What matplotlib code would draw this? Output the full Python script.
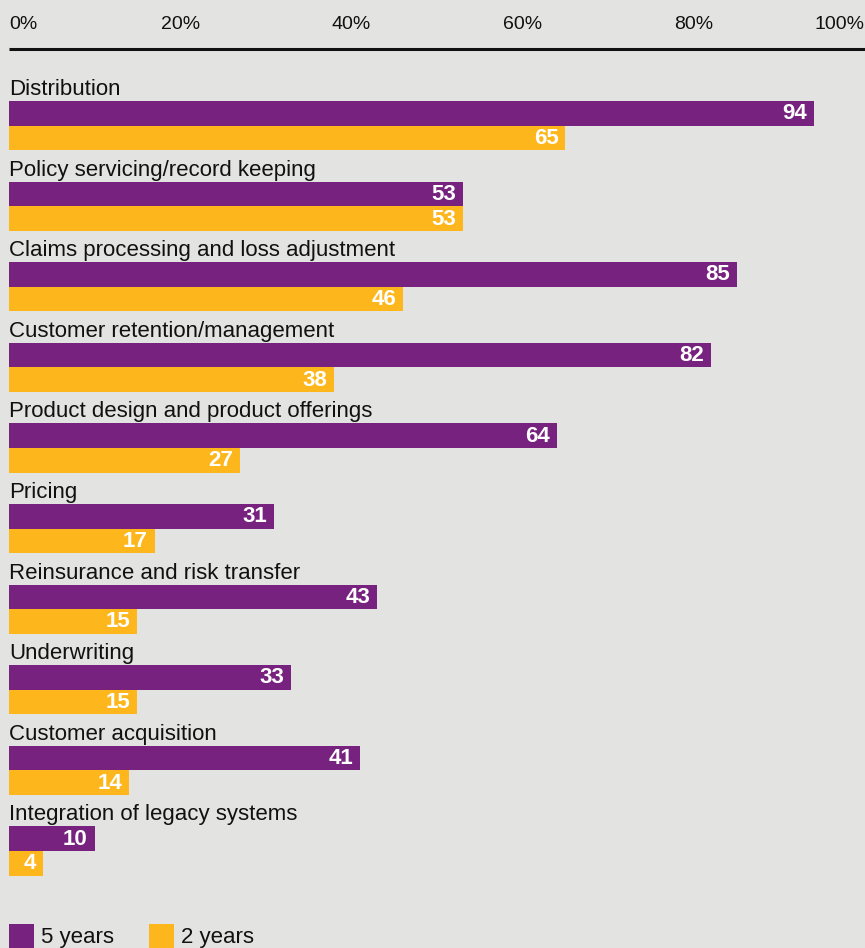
"""Horizontal paired bar chart: share of respondents expecting impact, 5 vs 2 years"""
import matplotlib.pyplot as plt
from matplotlib.patches import Rectangle

CATEGORIES = [
    "Distribution",
    "Policy servicing/record keeping",
    "Claims processing and loss adjustment",
    "Customer retention/management",
    "Product design and product offerings",
    "Pricing",
    "Reinsurance and risk transfer",
    "Underwriting",
    "Customer acquisition",
    "Integration of legacy systems",
]
FIVE_YEARS = [94, 53, 85, 82, 64, 31, 43, 33, 41, 10]
TWO_YEARS = [65, 53, 46, 38, 27, 17, 15, 15, 14, 4]
TICKS = [0, 20, 40, 60, 80, 100]
SERIES = ["5 years", "2 years"]

PURPLE = "#76227e"
YELLOW = "#fdb71c"
BG = "#e3e3e1"
FONT = "Liberation Sans"

W, H = 865, 948


def main():
    """Go Main Go"""
    fig = plt.figure(figsize=(W / 100, H / 100), dpi=100, facecolor=BG)
    # axes spans the full height; y runs in pixel rows, x in percent
    ax = fig.add_axes([9 / W, 0, (W - 9) / W, 1])
    ax.set_facecolor(BG)
    ax.set_xlim(0, 100)
    ax.set_ylim(H, 0)
    ax.axis("off")

    # top scale
    for t in TICKS:
        ha = "left" if t == TICKS[0] else ("right" if t == TICKS[-1] else "center")
        ax.text(t, 24.5, f"{t}%", ha=ha, va="center", fontsize=14,
                family=FONT, color="#111111")
    ax.plot([0, 100], [49, 49], color="#111111", lw=2.2, clip_on=False,
            solid_capstyle="butt")

    step = 80.6
    bar_h = 24.6
    for i, name in enumerate(CATEGORIES):
        top = 89.5 + i * step
        ax.text(0, top, name, ha="left", va="center", fontsize=16,
                family=FONT, color="#111111")
        for j, (vals, col) in enumerate(((FIVE_YEARS, PURPLE),
                                         (TWO_YEARS, YELLOW))):
            y = top + 11.5 + j * bar_h
            v = vals[i]
            ax.barh(y + bar_h / 2, v, height=bar_h, color=col, left=0)
            ax.text(v - 0.8, y + bar_h / 2 + 0.5, str(v), ha="right",
                    va="center", fontsize=16, fontweight="bold",
                    family=FONT, color="white")

    # legend along the bottom edge
    for k, (label, col) in enumerate(zip(SERIES, (PURPLE, YELLOW))):
        x0 = 9 + k * 140
        fig.patches.append(Rectangle((x0 / W, 0), 25 / W, 24 / H,
                                     transform=fig.transFigure,
                                     facecolor=col, edgecolor="none"))
        fig.text((x0 + 32) / W, 11 / H, label, ha="left", va="center",
                 fontsize=16, family=FONT, color="#111111")

    fig.savefig("out.png", dpi=100, facecolor=BG)


if __name__ == "__main__":
    main()
